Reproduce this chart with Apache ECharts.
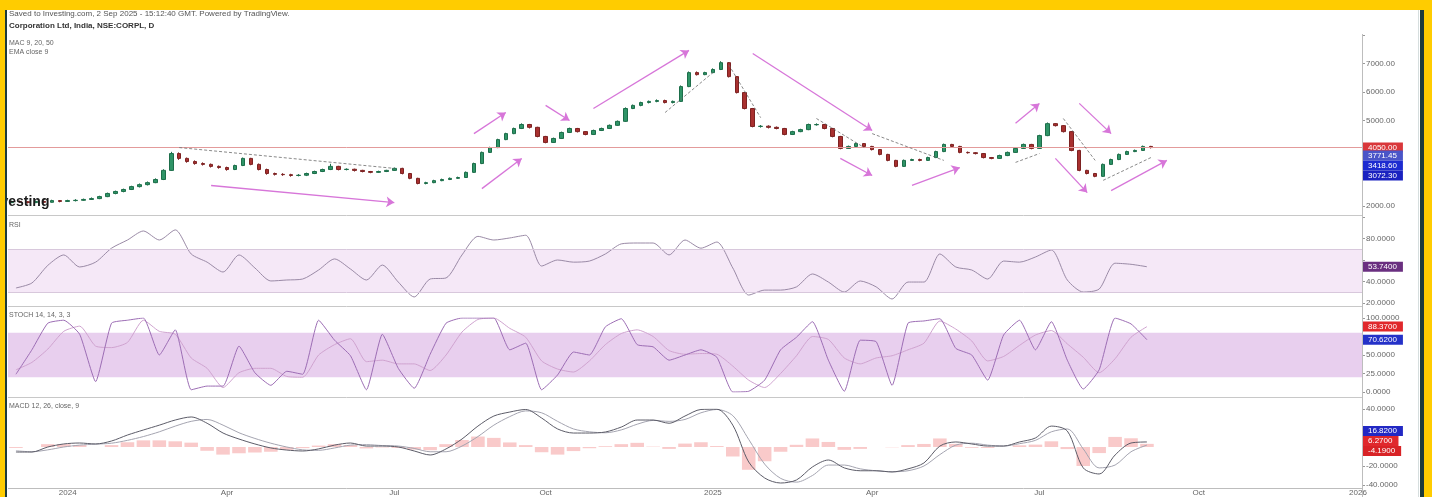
<!DOCTYPE html>
<html><head><meta charset="utf-8">
<script src="https://cdn.jsdelivr.net/npm/echarts@6/dist/echarts.min.js"></script>
<style>html,body{margin:0;padding:0;background:#fff}#c{width:1432px;height:497px}</style>
</head><body><div id="c"></div><script>
// ---------- data ----------
const mainSlots = 170;           // daily category slots on the price axis (incl. empty future)
const indSlots = 85;             // indicator category slots
const tickIdx = [7,27,48,67,88,108,129,149,169];
const tickLabels = ['2024','Apr','Jul','Oct','2025','Apr','Jul','Oct','2026'];
// [open, close, low, high]
const candles = [
[2120,2160,2100,2190],[2160,2150,2110,2190],[2150,2120,2090,2170],[2120,2160,2100,2190],[2160,2130,2100,2180],
[2130,2190,2120,2220],[2190,2160,2130,2210],[2160,2190,2140,2220],[2190,2200,2160,2240],[2200,2230,2180,2260],
[2230,2260,2210,2300],[2260,2330,2240,2360],[2330,2440,2310,2470],[2440,2510,2410,2540],[2510,2580,2480,2610],
[2580,2680,2560,2710],[2680,2750,2650,2790],[2750,2820,2720,2860],[2820,2930,2800,2970],[2930,3250,2910,3290],
[3250,3840,3230,3900],[3840,3670,3620,3880],[3670,3560,3520,3700],[3560,3490,3450,3600],[3490,3460,3420,3530],
[3460,3390,3350,3490],[3390,3350,3310,3420],[3350,3280,3240,3380],[3280,3420,3260,3450],[3420,3670,3400,3700],
[3670,3460,3430,3690],[3460,3280,3250,3490],[3280,3140,3100,3310],[3140,3110,3070,3170],[3110,3100,3060,3150],
[3100,3070,3030,3130],[3070,3080,3040,3120],[3080,3140,3050,3170],[3140,3210,3120,3240],[3210,3280,3190,3310],
[3280,3390,3260,3480],[3390,3280,3250,3410],[3280,3290,3250,3320],[3290,3250,3210,3310],[3250,3210,3180,3270],
[3210,3180,3150,3230],[3180,3210,3160,3240],[3210,3250,3190,3270],[3250,3320,3230,3350],[3320,3140,3110,3340],
[3140,2970,2940,3160],[2970,2790,2760,2990],[2790,2820,2760,2850],[2820,2890,2800,2920],[2890,2930,2870,2960],
[2930,2970,2910,3000],[2970,3000,2950,3030],[3000,3180,2990,3210],[3180,3490,3160,3520],[3490,3880,3470,3910],
[3880,4050,3860,4080],[4050,4330,4030,4360],[4330,4540,4310,4570],[4540,4720,4520,4750],[4720,4860,4700,4900],
[4860,4760,4720,4880],[4760,4440,4410,4780],[4440,4230,4200,4460],[4230,4370,4210,4400],[4370,4580,4350,4610],
[4580,4720,4560,4750],[4720,4610,4580,4740],[4610,4510,4480,4630],[4510,4650,4490,4680],[4650,4720,4630,4750],
[4720,4830,4700,4860],[4830,4970,4810,5000],[4970,5420,4950,5460],[5420,5530,5400,5560],[5530,5630,5500,5660],
[5630,5670,5600,5700],[5670,5700,5640,5740],[5700,5630,5600,5730],[5630,5670,5600,5700],[5670,6190,5650,6230],
[6190,6680,6170,6720],[6680,6610,6580,6720],[6610,6680,6590,6710],[6680,6790,6660,6830],[6790,7030,6770,7080],
[7030,6540,6510,7050],[6540,5980,5950,6560],[5980,5420,5390,6000],[5420,4790,4760,5440],[4790,4800,4750,4840],
[4800,4760,4720,4830],[4760,4720,4690,4790],[4720,4510,4480,4740],[4510,4610,4490,4640],[4610,4680,4590,4710],
[4680,4860,4660,4890],[4850,4860,4820,4900],[4860,4720,4690,4880],[4720,4440,4410,4740],[4440,4020,3990,4460],
[4020,4090,4000,4120],[4090,4190,4070,4220],[4190,4090,4060,4210],[4090,3980,3950,4110],[3980,3810,3780,4000],
[3810,3600,3570,3830],[3600,3390,3360,3620],[3390,3600,3370,3630],[3600,3630,3580,3660],[3630,3600,3570,3660],
[3600,3700,3580,3730],[3700,3910,3680,3940],[3910,4160,3890,4190],[4160,4090,4060,4180],[4090,3880,3850,4110],
[3880,3870,3840,3910],[3870,3840,3810,3890],[3840,3700,3670,3860],[3700,3670,3640,3720],[3670,3770,3650,3800],
[3770,3880,3750,3910],[3880,4020,3860,4050],[4020,4160,4000,4190],[4160,4020,3990,4180],[4020,4470,4000,4500],
[4470,4890,4450,4930],[4890,4820,4790,4910],[4820,4610,4580,4840],[4610,3950,3920,4630],[3950,3250,3220,3970],
[3250,3140,3110,3270],[3140,3040,3010,3160],[3040,3460,3020,3490],[3460,3630,3440,3660],[3630,3810,3610,3840],
[3810,3910,3790,3940],[3910,3950,3890,3980],[3950,4090,3930,4120],[4090,4050,4020,4110]
];
const priceBadges = [3771.45, 3418.60, 3072.30];
// annotation arrows and trend lines: [startIndex, startPrice, endIndex, endPrice]
const arrows = [
[25,2720,48,2120],[58,4540,62,5280],[59,2610,64,3670],[67,5530,70,5000],[73,5420,85,7460],
[93,7350,108,4650],[104,3670,108,3070],[113,2720,119,3350],[126,4900,129,5600],[134,5600,138,4540],
[131,3670,135,2470],[138,2540,145,3600]
];
const trendLines = [
[21,4050,48,3320],[82,5280,88,6680],[90,6950,94,5100],[101,5070,107,4050],
[108,4540,117,3600],[132,5070,136,3600],[137,2900,143,3700],[126,3530,129,3840]
];
const rsi = [34,38.6,55,64.7,53.5,58,71,78.6,87,78.6,88,65.6,58,48.8,64.7,52.6,40.5,41.4,42.3,50.7,
61,51.6,41.4,55.3,39.5,25.6,42.3,43.3,64.7,82,78.6,80.5,83,54.4,60,58,59,65.6,75,75.8,
75.8,64.7,78.6,71,76.7,52.6,27.4,32,32,35,47,39.5,30.2,40.5,35,23.7,39.5,39.5,65.6,53.5,
50.7,42.3,59,58,62.8,69.3,41.4,30.2,33,57,56,53.74];
const stochK = [24,57,93,97,78,14,93,97,100,50,84,3,8,8,62,26,9,28,24,97,
70,49,3,78,32,5,51,93,100,100,100,57,66,3,23,54,50,88,99,64,
61,43,50,57,47,0,1,16,57,74,95,43,1,70,68,9,93,96,99,59,
50,16,77,97,57,95,43,4,30,100,92,70.62];
const stochD = [30,40,58,82,89,62,60,67,97,82,78,46,32,6,26,32,32,21,20,50,
64,72,41,43,38,38,29,50,81,98,100,86,74,42,31,27,42,64,79,84,
75,56,51,52,51,35,16,6,25,49,75,71,46,38,46,49,57,66,96,85,
69,42,48,63,77,83,65,47,26,45,74,88.37];
const macd = [-5.3,-5.3,0,3.2,4.2,3.2,6.3,12.6,17.9,23,28.4,31.6,25,14.7,8.4,3.2,-1,-3.2,-4.2,-2,
2,4.2,1,1,0,-4.2,-8.4,-2,8.4,22,32.6,36.8,39.5,30.5,19,14.7,14.7,15.8,21,28.4,
28.4,25,32.6,39.5,39.8,23,-15.8,-32.6,-37.9,-34.7,-21,-13.7,-22,-25,-25,-26.3,-23,-16.8,1,5.3,
3.2,1,1,5.3,9.5,22,16.8,-22,-28.4,-8.4,4.2,5.3];
const signal = [-4,-5,-3,0,2,3,4,7,11,16,22,27,29,23,15,9,4,0,-3,-3.5,
-1,2,2.5,1.5,1,-1.5,-5,-5,1,11,23,32,38,36,27,19,16,15,18,24,
28,27,29,36,39.5,33,8,-18,-33,-37,-30,-19,-19,-23,-25,-26,-25,-20,-8,2,
4,2,1,3.5,7,16,19,-2,-22,-19,-5,2];
const hist = [-1,0,3,3,2,0,2,5,7,7,6,4.6,-4,-8,-6.6,-5.8,-5,-3,-1.2,1.5,
3,2,-1.5,-0.5,-1,-2.7,-3.4,3,7.4,11,9.6,4.8,2,-5.5,-8,-4.3,-1.3,0.8,3,4.4,
0.4,-2,3.6,5,1,-10,-24,-15,-5,2.3,9,5.3,-3,-2,0,-0.3,2,3.2,9,3.3,
-0.8,-1,0,1.8,2.5,6,-2.2,-20,-6.4,10.6,9.2,3.3];
const macdBadges = [16.82, 6.27, -4.19];

// ---------- chart ----------
const FONT = '"Liberation Sans", Arial, sans-serif';
const mainCats = Array.from({length: mainSlots}, (_, i) => 'm' + i);
const indCats = Array.from({length: indSlots}, (_, i) => 'k' + i);
const lastClose = candles[candles.length - 1][1];
const HIDDEN_LINE = {color: 'rgba(0,0,0,0)', width: 0.01};

function badge(v, bg, digits, lineStyle) {
  return {
    yAxis: v,
    lineStyle: lineStyle || HIDDEN_LINE,
    label: {show: true, position: 'end', distance: 1, formatter: v.toFixed(digits),
      backgroundColor: bg, color: '#fff', fontSize: 8, fontFamily: FONT, padding: [1, 6, 1, 5]}
  };
}
function yAx(grid, min, max, interval, hidden, digits) {
  return {
    type: 'value', gridIndex: grid, position: 'right', min, max, interval,
    axisLine: {show: false}, splitLine: {show: false},
    axisTick: {show: true, length: 3, lineStyle: {color: '#999'}},
    axisLabel: {fontSize: 8, color: '#666', fontFamily: FONT, margin: 4,
      formatter: v => hidden.includes(v) ? '' : v.toFixed(digits)}
  };
}
function xAx(grid, cats, show) {
  return {
    type: 'category', gridIndex: grid, data: cats, boundaryGap: true, position: 'bottom', offset: 0,
    axisLine: {show: false}, axisTick: {show: false}, splitLine: {show: false},
    axisLabel: show ? {
      show: true, fontSize: 8, color: '#666', fontFamily: FONT, margin: 4,
      interval: idx => tickIdx.includes(idx),
      formatter: (v, idx) => tickLabels[tickIdx.indexOf(idx)] || ''
    } : {show: false}
  };
}
const pairLines = arr => arr.map(a => [{coord: [a[0], a[1]]}, {coord: [a[2], a[3]]}]);

const option = {
  animation: false,
  backgroundColor: '#fff',
  grid: [
    {left: 8, width: 1354, top: 35, height: 171},
    {left: 8, width: 1354, top: 217, height: 86},
    {left: 8, width: 1354, top: 318, height: 74},
    {left: 8, width: 1354, top: 409, height: 76}
  ],
  xAxis: [
    xAx(0, mainCats, false), xAx(1, indCats, false), xAx(2, indCats, false),
    xAx(3, indCats, false), xAx(3, mainCats, true)
  ],
  yAxis: [
    yAx(0, 2000, 8000, 1000, [8000, 4000, 3000], 2),
    yAx(1, 20, 100, 20, [100, 60], 4),
    yAx(2, 0, 100, 25, [75], 4),
    yAx(3, -40, 40, 20, [20, 0], 4)
  ],
  series: [
    {
      type: 'candlestick', xAxisIndex: 0, yAxisIndex: 0, data: candles, barWidth: '50%',
      itemStyle: {color: '#2f9467', color0: '#a8302f', borderColor: '#1d6e4a', borderColor0: '#7d2222', borderWidth: 1},
      markLine: {
        silent: true, symbol: ['none', 'none'],
        data: [
          badge(lastClose, '#d9373a', 2, {color: '#e39b9b', width: 1, type: 'solid'}),
          badge(priceBadges[0], '#4a55c8', 2),
          badge(priceBadges[1], '#1d2bd0', 2),
          badge(priceBadges[2], '#1a22c0', 2)
        ]
      }
    },
    {
      type: 'line', xAxisIndex: 0, yAxisIndex: 0, data: [], silent: true,
      markLine: {silent: true, symbol: ['none', 'none'],
        lineStyle: {color: '#6b6b6b', width: 0.8, type: [3, 2]}, label: {show: false},
        data: pairLines(trendLines)}
    },
    {
      type: 'line', xAxisIndex: 0, yAxisIndex: 0, data: [], silent: true,
      markLine: {silent: true, symbol: ['none', 'arrow'], symbolSize: 8,
        lineStyle: {color: '#d776d9', width: 1.3, type: 'solid'}, label: {show: false},
        data: pairLines(arrows)}
    },
    {
      type: 'line', xAxisIndex: 1, yAxisIndex: 1, data: rsi, showSymbol: false, smooth: 0.25,
      lineStyle: {color: '#9a8aa6', width: 1}, z: 3,
      markArea: {silent: true, itemStyle: {color: 'rgba(226,190,232,0.35)'}, data: [[{yAxis: 30}, {yAxis: 70}]]},
      markLine: {silent: true, symbol: ['none', 'none'], data: [
        {yAxis: 70, lineStyle: {color: '#d8c8dc', width: 1, type: 'solid'}, label: {show: false}},
        {yAxis: 30, lineStyle: {color: '#d8c8dc', width: 1, type: 'solid'}, label: {show: false}},
        badge(rsi[rsi.length - 1], '#6a2f80', 4)
      ]}
    },
    {
      type: 'line', xAxisIndex: 2, yAxisIndex: 2, data: stochD, showSymbol: false, smooth: 0.2,
      lineStyle: {color: '#cfa3cf', width: 1}, z: 3,
      markArea: {silent: true, itemStyle: {color: 'rgba(214,168,224,0.55)'}, data: [[{yAxis: 20}, {yAxis: 80}]]},
      markLine: {silent: true, symbol: ['none', 'none'], data: [badge(stochD[stochD.length - 1], '#e0282c', 4)]}
    },
    {
      type: 'line', xAxisIndex: 2, yAxisIndex: 2, data: stochK, showSymbol: false, smooth: 0.15,
      lineStyle: {color: '#9c6db4', width: 1}, z: 4,
      markLine: {silent: true, symbol: ['none', 'none'], data: [badge(stochK[stochK.length - 1], '#2431c8', 4)]}
    },
    {
      type: 'bar', xAxisIndex: 3, yAxisIndex: 3, data: hist, barWidth: '85%',
      itemStyle: {color: 'rgba(242,138,138,0.45)'}, z: 2
    },
    {
      type: 'line', xAxisIndex: 3, yAxisIndex: 3, data: signal, showSymbol: false, smooth: 0.3,
      lineStyle: {color: '#a4a4b0', width: 1}, z: 3
    },
    {
      type: 'line', xAxisIndex: 3, yAxisIndex: 3, data: macd, showSymbol: false, smooth: 0.3,
      lineStyle: {color: '#5c5c68', width: 1}, z: 4,
      markLine: {silent: true, symbol: ['none', 'none'], data: [
        badge(macdBadges[0], '#2228c4', 4), badge(macdBadges[1], '#e0282c', 4), badge(macdBadges[2], '#d82326', 4)
      ]}
    }
  ],
  graphic: [
    {type: 'line', z: 50, shape: {x1: 8, y1: 215.5, x2: 1362, y2: 215.5}, style: {stroke: '#c8c8c8', lineWidth: 1}},
    {type: 'line', z: 50, shape: {x1: 8, y1: 306.5, x2: 1362, y2: 306.5}, style: {stroke: '#c8c8c8', lineWidth: 1}},
    {type: 'line', z: 50, shape: {x1: 8, y1: 397.5, x2: 1362, y2: 397.5}, style: {stroke: '#c8c8c8', lineWidth: 1}},
    {type: 'line', z: 50, shape: {x1: 8, y1: 488.5, x2: 1362, y2: 488.5}, style: {stroke: '#bdbdbd', lineWidth: 1}},
    {type: 'line', z: 50, shape: {x1: 1362.5, y1: 34, x2: 1362.5, y2: 497}, style: {stroke: '#bdbdbd', lineWidth: 1}},
    {type: 'line', z: 50, shape: {x1: 1418.5, y1: 10, x2: 1418.5, y2: 497}, style: {stroke: '#d6dede', lineWidth: 1}},
    {type: 'text', z: 60, x: 9, y: 10, style: {text: 'Saved to Investing.com, 2 Sep 2025 - 15:12:40 GMT. Powered by TradingView.', fill: '#555', font: '8px ' + FONT}},
    {type: 'text', z: 60, x: 9, y: 22, style: {text: 'Corporation Ltd, India, NSE:CORPL, D', fill: '#333', font: 'bold 8px ' + FONT}},
    {type: 'text', z: 60, x: 9, y: 40, style: {text: 'MAC 9, 20, 50', fill: '#666', font: '7px ' + FONT}},
    {type: 'text', z: 60, x: 9, y: 49, style: {text: 'EMA close 9', fill: '#666', font: '7px ' + FONT}},
    {type: 'text', z: 60, x: 9, y: 222, style: {text: 'RSI', fill: '#666', font: '7px ' + FONT}},
    {type: 'text', z: 60, x: 9, y: 312, style: {text: 'STOCH 14, 14, 3, 3', fill: '#666', font: '7px ' + FONT}},
    {type: 'text', z: 60, x: 9, y: 403, style: {text: 'MACD 12, 26, close, 9', fill: '#666', font: '7px ' + FONT}},
    {type: 'text', z: 60, x: -12, y: 195, style: {text: 'Investing', fill: '#1b1b1b', font: 'bold 14px ' + FONT}},
    {type: 'rect', z: 100, shape: {x: 0, y: 0, width: 1432, height: 10}, style: {fill: '#FFCC00'}},
    {type: 'rect', z: 100, shape: {x: 0, y: 0, width: 5, height: 497}, style: {fill: '#FFCC00'}},
    {type: 'rect', z: 100, shape: {x: 5, y: 10, width: 2, height: 487}, style: {fill: '#1e3b3b'}},
    {type: 'rect', z: 100, shape: {x: 1420, y: 10, width: 4, height: 487}, style: {fill: '#1e3b3b'}},
    {type: 'rect', z: 100, shape: {x: 1424, y: 0, width: 8, height: 497}, style: {fill: '#FFCC00'}}
  ]
};
const chart = echarts.init(document.getElementById('c'), null, {renderer: 'canvas'});
chart.setOption(option);
</script></body></html>
